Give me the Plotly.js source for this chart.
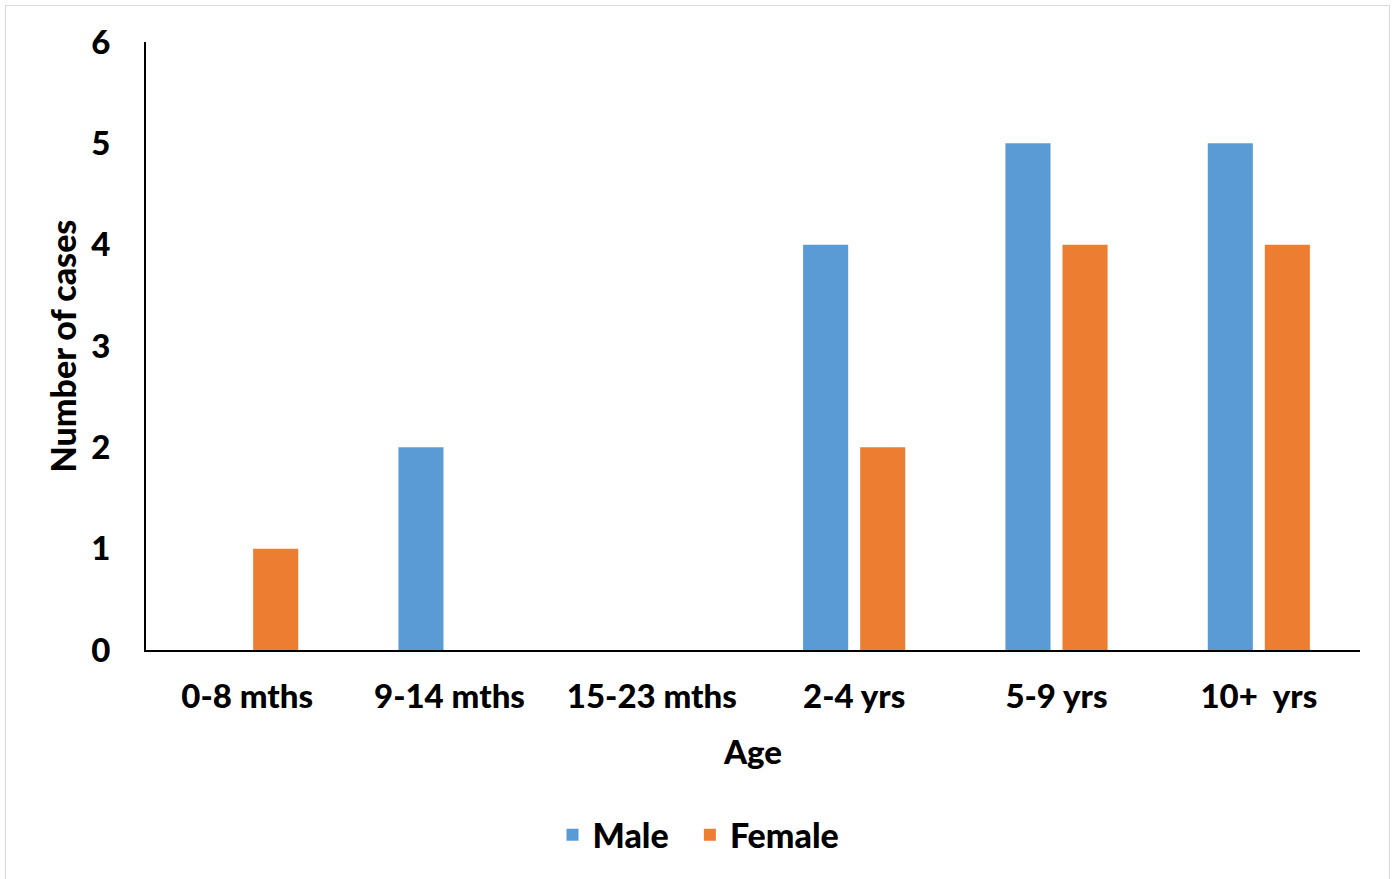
<!DOCTYPE html>
<html>
<head>
<meta charset="utf-8">
<script src="https://cdn.plot.ly/plotly-3.0.1.min.js"></script>
<style>
html,body{margin:0;padding:0;background:#fff;}
#chart{width:1397px;height:879px;}
#frame{position:absolute;left:5px;top:5px;width:1383px;height:878px;border:1.5px solid #d9d9d9;pointer-events:none;}
</style>
</head>
<body>
<div id="chart"></div>
<div id="frame"></div>
<script>
const categories = ["0-8 mths", "9-14 mths", "15-23 mths", "2-4 yrs", "5-9 yrs", "10+  yrs"];
const maleValues = [0, 2, 0, 4, 5, 5];
const femaleValues = [1, 0, 0, 2, 4, 4];
const yTicks = [0, 1, 2, 3, 4, 5, 6];
const seriesNames = ["Male", "Female"];

const FONT = "Lato, 'Open Sans', sans-serif";
const W = 900;

const traces = [
  {type: "bar", name: seriesNames[0] + "&nbsp;&nbsp;", x: categories, y: maleValues, marker: {color: "#5B9BD5"}, hoverinfo: "x+y"},
  {type: "bar", name: seriesNames[1], x: categories, y: femaleValues, marker: {color: "#ED7D31"}, hoverinfo: "x+y"}
];

const layout = {
  width: 1397, height: 879,
  margin: {l: 146, r: 37, t: 42, b: 229, autoexpand: false},
  paper_bgcolor: "#ffffff", plot_bgcolor: "#ffffff",
  font: {family: FONT, color: "#000", size: 33, weight: W},
  barmode: "group",
  bargap: 0.436,
  bargroupgap: 0.21,
  showlegend: true,
  legend: {orientation: "h", xref: "container", x: 0.5, xanchor: "center", y: -0.257, yanchor: "top",
           font: {family: FONT, size: 34, color: "#000", weight: W}, itemwidth: 30, tracegroupgap: 0},
  xaxis: {
    type: "category",
    tickvals: categories,
    ticktext: categories.map(c => c.replace(/ /g, "&nbsp;")),
    tickangle: 0,
    automargin: false,
    showline: true, linecolor: "#000", linewidth: 2,
    showgrid: false, zeroline: false, ticks: "",
    ticklabelstandoff: 16,
    tickfont: {family: FONT, size: 33, color: "#000", weight: W},
    title: {text: "Age", font: {family: FONT, size: 33, color: "#000", weight: W}, standoff: 27}
  },
  yaxis: {
    range: [0, 6],
    tickvals: yTicks,
    ticktext: yTicks.map(v => String(v)),
    automargin: false,
    showline: true, linecolor: "#000", linewidth: 2,
    showgrid: false, zeroline: false, ticks: "",
    ticklabelstandoff: 27,
    tickfont: {family: FONT, size: 33, color: "#000", weight: W},
    title: {text: "Number of cases", font: {family: FONT, size: 34, color: "#000", weight: W}, standoff: 4}
  }
};

Plotly.newPlot("chart", traces, layout, {displayModeBar: false, staticPlot: true});
</script>
</body>
</html>
